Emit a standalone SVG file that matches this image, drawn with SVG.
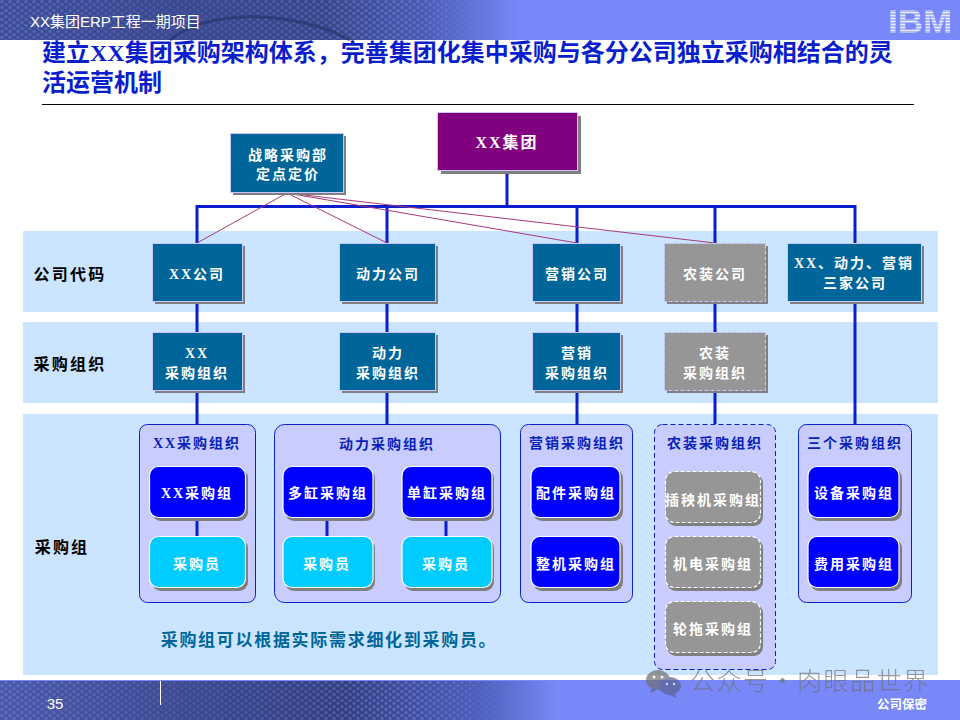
<svg xmlns="http://www.w3.org/2000/svg" width="960" height="720" viewBox="0 0 960 720">
<style>
text{font-family:"Liberation Serif","Noto Sans CJK SC",serif;font-weight:bold;text-anchor:middle}
.sh{fill:#7f7f7f}
.box{stroke:#c8c8ff;stroke-width:1}
.teal{fill:#006699}
.purple{fill:#800080}
.gray{fill:#969696;stroke:#c8c8ff;stroke-dasharray:4 2}
.l{font-size:14px;fill:#fff;letter-spacing:2px}
.side{font-size:16px;fill:#000;letter-spacing:2.200px}
.band{fill:#cbe4ff}
.grp{fill:#c8ccff;stroke:#0a22c8;stroke-width:1}
.grpd{stroke-dasharray:5 3}
.gt{font-size:14px;fill:#0a22b8;letter-spacing:2px}
.btn{stroke:#fff;stroke-width:1.2}
.b1{fill:#0000ff}
.b2{fill:#00ccff}
.b3{fill:#969696;stroke-dasharray:4 2}
.c{fill:none;stroke:#0a1ecc;stroke-width:3}
.m{fill:none;stroke:#a83a78;stroke-width:1}
.t{font-size:24px;fill:#0a1ecc;text-anchor:start}
.hd{font-family:"Liberation Sans","Noto Sans CJK SC",sans-serif;fill:#fff;font-weight:normal}
</style>
<defs>
<linearGradient id="hg" x1="0" x2="1" y1="0" y2="0"><stop offset="0" stop-color="#3f4d98"/><stop offset=".34" stop-color="#384689"/><stop offset=".44" stop-color="#4a5ab0"/><stop offset=".54" stop-color="#7888f8"/><stop offset="1" stop-color="#7888f8"/></linearGradient>
<linearGradient id="fg" x1="0" x2="1" y1="0" y2="0"><stop offset="0" stop-color="#4a58a6"/><stop offset=".36" stop-color="#343f80"/><stop offset=".5" stop-color="#4f5fbc"/><stop offset=".58" stop-color="#7888f8"/><stop offset="1" stop-color="#7888f8"/></linearGradient>
<pattern id="dots" width="8" height="6" patternUnits="userSpaceOnUse"><circle cx="2" cy="1.500" r="1.600" fill="#7c8ce8" fill-opacity=".55"/><circle cx="6" cy="4.500" r="1.600" fill="#7c8ce8" fill-opacity=".55"/></pattern>
<linearGradient id="fade" x1="0" x2="1" y1="0" y2="0"><stop offset="0" stop-color="#fff" stop-opacity=".8"/><stop offset=".35" stop-color="#fff" stop-opacity=".3"/><stop offset=".8" stop-color="#fff" stop-opacity=".9"/><stop offset="1" stop-color="#fff" stop-opacity="0"/></linearGradient>
<mask id="mh"><rect x="0" y="0" width="500" height="40" fill="url(#fade)"/></mask>
<mask id="mf"><rect x="0" y="680" width="520" height="40" fill="url(#fade)"/></mask>
</defs>
<rect width="960" height="720" fill="#fff"/>
<g id="header">
<rect width="960" height="40" fill="url(#hg)"/>
<rect width="500" height="40" fill="url(#dots)" mask="url(#mh)"/>
<path d="M170 40C205 10 290 8 350 40" fill="none" stroke="#28346e" stroke-width="3" opacity=".7"/>
<text class="hd" x="30" y="27" font-size="15" style="text-anchor:start">XX集团ERP工程一期项目</text>
<g id="ibm"><text x="920" y="33" font-size="33" textLength="64" lengthAdjust="spacingAndGlyphs" style="font-family:'Liberation Sans',sans-serif;fill:#e8ecff">IBM</text>
<g stroke="#7888f8" stroke-width="1"><path d="M886 11H954M886 14H954M886 17H954M886 20H954M886 23H954M886 26H954M886 29H954M886 32H954"/></g></g>
</g>
<text class="t" x="42" y="61">建立XX集团采购架构体系，完善集团化集中采购与各分公司独立采购相结合的灵</text>
<text class="t" x="42" y="91">活运营机制</text>
<path d="M42 104.500H914" stroke="#000" stroke-width="1"/>
<g id="bands">
<rect class="band" x="23" y="231" width="915" height="81"/>
<rect class="band" x="23" y="322" width="915" height="81"/>
<rect class="band" x="23" y="414" width="915" height="261"/>
<text class="side" x="70" y="280">公司代码</text>
<text class="side" x="70" y="370">采购组织</text>
<text class="side" x="62" y="553">采购组</text>
</g>
<g id="org-groups">
<g id="grp-xx"><rect class="grp" x="139.500" y="424.500" width="116" height="178" rx="8"/><text class="gt" x="197" y="448">XX采购组织</text></g>
<g id="grp-dl"><rect class="grp" x="274.500" y="424.500" width="226" height="178" rx="10"/><text class="gt" x="387" y="449">动力采购组织</text></g>
<g id="grp-yx"><rect class="grp" x="520.500" y="424.500" width="112" height="178" rx="8"/><text class="gt" x="577" y="448">营销采购组织</text></g>
<g id="grp-nz"><rect class="grp grpd" x="654.500" y="424.500" width="121" height="245" rx="8"/><text class="gt" x="715" y="448">农装采购组织</text></g>
<g id="grp-three"><rect class="grp" x="798.500" y="424.500" width="113" height="178" rx="8"/><text class="gt" x="855" y="448">三个采购组织</text></g>
</g>
<g id="connectors">
<path class="c" d="M507 170V206.500M197 243V206.500H855V243M387 206.500V243M577 206.500V243M715 206.500V243"/>
<path class="c" d="M197 301V333M387 301V333M577 301V333M715 301V333M855 301V424M197 391V424M387 391V424M577 391V424M715 391V424"/>
<path class="c" d="M197 517V537M327 517V537M446 517V537"/>
<path class="m" d="M287 193L197 243M287 193L387 243M287 193L577 243M287 193L715 243"/>
</g>
<g id="n-group"><rect class="sh" x="441" y="116" width="140" height="58"/><rect class="box purple" x="437.500" y="112.500" width="140" height="58"/><text class="l" x="507" y="148" style="font-size:16px">XX集团</text></g>
<g id="n-strategy"><rect class="sh" x="233" y="136" width="113" height="59"/><rect class="box teal" x="230.500" y="133.500" width="113" height="59"/><text class="l" x="288" y="160">战略采购部</text><text class="l" x="288" y="179">定点定价</text></g>
<g id="n-c1"><rect class="sh" x="155" y="246" width="90" height="58"/><rect class="box teal" x="152.500" y="243.500" width="90" height="58"/><text class="l" x="197" y="279">XX公司</text></g>
<g id="n-c2"><rect class="sh" x="342" y="246" width="96" height="58"/><rect class="box teal" x="339.500" y="243.500" width="96" height="58"/><text class="l" x="388" y="279">动力公司</text></g>
<g id="n-c3"><rect class="sh" x="535" y="246" width="88" height="58"/><rect class="box teal" x="532.500" y="243.500" width="88" height="58"/><text class="l" x="577" y="279">营销公司</text></g>
<g id="n-c4"><rect class="sh" x="667" y="246" width="101" height="58"/><rect class="box gray" x="664.500" y="243.500" width="101" height="58"/><text class="l" x="715" y="279">农装公司</text></g>
<g id="n-c5"><rect class="sh" x="790" y="246" width="134" height="58"/><rect class="box teal" x="787.500" y="243.500" width="134" height="58"/><text class="l" x="854" y="268">XX、动力、营销</text><text class="l" x="855" y="288">三家公司</text></g>
<g id="n-o1"><rect class="sh" x="155" y="335" width="90" height="58"/><rect class="box teal" x="152.500" y="332.500" width="90" height="58"/><text class="l" x="197" y="358">XX</text><text class="l" x="197" y="378">采购组织</text></g>
<g id="n-o2"><rect class="sh" x="342" y="335" width="96" height="58"/><rect class="box teal" x="339.500" y="332.500" width="96" height="58"/><text class="l" x="388" y="358">动力</text><text class="l" x="388" y="378">采购组织</text></g>
<g id="n-o3"><rect class="sh" x="535" y="335" width="88" height="58"/><rect class="box teal" x="532.500" y="332.500" width="88" height="58"/><text class="l" x="577" y="358">营销</text><text class="l" x="577" y="378">采购组织</text></g>
<g id="n-o4"><rect class="sh" x="667" y="335" width="101" height="58"/><rect class="box gray" x="664.500" y="332.500" width="101" height="58"/><text class="l" x="715" y="358">农装</text><text class="l" x="715" y="378">采购组织</text></g>
<g id="n-b1"><rect class="sh" x="152" y="469" width="96" height="52" rx="9"/><rect class="btn b1" x="149.500" y="466.500" width="96" height="51" rx="9"/><text class="l" x="197" y="498">XX采购组</text></g>
<g id="n-b1a"><rect class="sh" x="152" y="539" width="96" height="52" rx="9"/><rect class="btn b2" x="149.500" y="536.500" width="96" height="51" rx="9"/><text class="l" x="197" y="569">采购员</text></g>
<g id="n-b2"><rect class="sh" x="285" y="469" width="90" height="52" rx="9"/><rect class="btn b1" x="283" y="466.500" width="90" height="51" rx="9"/><text class="l" x="328" y="498">多缸采购组</text></g>
<g id="n-b2a"><rect class="sh" x="285" y="539" width="90" height="52" rx="9"/><rect class="btn b2" x="283" y="536.500" width="90" height="51" rx="9"/><text class="l" x="327" y="569">采购员</text></g>
<g id="n-b3"><rect class="sh" x="404" y="469" width="90" height="52" rx="9"/><rect class="btn b1" x="402" y="466.500" width="90" height="51" rx="9"/><text class="l" x="447" y="498">单缸采购组</text></g>
<g id="n-b3a"><rect class="sh" x="404" y="539" width="90" height="52" rx="9"/><rect class="btn b2" x="402" y="536.500" width="90" height="51" rx="9"/><text class="l" x="446" y="569">采购员</text></g>
<g id="n-b4"><rect class="sh" x="533" y="469" width="90" height="52" rx="9"/><rect class="btn b1" x="531" y="466.500" width="89" height="51" rx="9"/><text class="l" x="576" y="498">配件采购组</text></g>
<g id="n-b5"><rect class="sh" x="533" y="539" width="90" height="52" rx="9"/><rect class="btn b1" x="531" y="536.500" width="89" height="51" rx="9"/><text class="l" x="576" y="569">整机采购组</text></g>
<g id="n-b6"><rect class="sh" x="667" y="474" width="96" height="52" rx="9"/><rect class="btn b3" x="665.500" y="471.500" width="95" height="51" rx="9"/><text class="l" x="713" y="505">插秧机采购组</text></g>
<g id="n-b7"><rect class="sh" x="667" y="539" width="96" height="52" rx="9"/><rect class="btn b3" x="665.500" y="536.500" width="95" height="51" rx="9"/><text class="l" x="713" y="569">机电采购组</text></g>
<g id="n-b8"><rect class="sh" x="667" y="604" width="96" height="52" rx="9"/><rect class="btn b3" x="665.500" y="601.500" width="95" height="51" rx="9"/><text class="l" x="713" y="634">轮拖采购组</text></g>
<g id="n-b9"><rect class="sh" x="810" y="469" width="92" height="52" rx="9"/><rect class="btn b1" x="808" y="466.500" width="91" height="51" rx="9"/><text class="l" x="854" y="498">设备采购组</text></g>
<g id="n-b10"><rect class="sh" x="810" y="539" width="92" height="52" rx="9"/><rect class="btn b1" x="808" y="536.500" width="91" height="51" rx="9"/><text class="l" x="854" y="569">费用采购组</text></g>
<text x="329" y="646" font-size="17" letter-spacing="1.700" fill="#006699">采购组可以根据实际需求细化到采购员。</text>
<g id="footer">
<rect y="680" width="960" height="40" fill="url(#fg)"/>
<rect y="680" width="520" height="40" fill="url(#dots)" mask="url(#mf)"/>
<rect y="680" width="960" height="1" fill="#7888f8"/>
<path d="M160.500 681V705" stroke="#fff" stroke-width="1"/>
<text class="hd" x="55" y="709" font-size="15">35</text>
<text class="hd" x="902" y="709" font-size="12.500" style="font-weight:bold">公司保密</text>
</g>
<g id="watermark" opacity=".7">
<ellipse cx="658" cy="680" rx="12" ry="10" fill="#6f6f6f"/><ellipse cx="670" cy="686" rx="11" ry="9" fill="#5a6190"/>
<path d="M652 688l-2 5 7-3zM674 693l3 5-8-3z" fill="#5a6190"/>
<circle cx="654" cy="677" r="1.500" fill="#eee"/><circle cx="662" cy="677" r="1.500" fill="#eee"/><circle cx="667" cy="684" r="1.300" fill="#eee"/><circle cx="674" cy="684" r="1.300" fill="#eee"/>
<text y="690" font-size="25" letter-spacing="1.500" fill="#707070" style="font-family:'Noto Sans CJK SC',sans-serif;font-weight:300;text-anchor:start"><tspan x="690">公众号</tspan><tspan x="770">·</tspan><tspan x="797">肉眼品世界</tspan></text>
</g>
</svg>
